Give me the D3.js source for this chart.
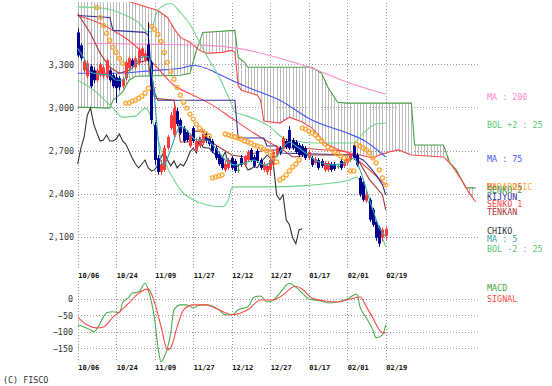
<!DOCTYPE html>
<html>
<head>
<meta charset="utf-8">
<script src="https://cdn.jsdelivr.net/npm/d3@7"></script>
<style>
  body { margin: 0; background: #fff; }
  svg { display: block; }
  text { font-family: "DejaVu Sans Mono", monospace; }
</style>
</head>
<body>
<svg id="chart" width="552" height="386"></svg>
<script>
// tick labels
const dateLabels = ['10/06', '10/24', '11/09', '11/27', '12/12', '12/27', '01/17', '02/01', '02/19'];
const dateIdx = [0, 12, 24, 36, 48, 60, 72, 84, 96];
const priceTicks = [3300, 3000, 2700, 2400, 2100];
const macdTicks = [0, -50, -100, -150];

// daily candles (97 bars)
const opens = [3522,3432,3258,3217,3286,3258,3189,3224,3217,3210,3258,3224,3210,3203,3147,3203,3272,3328,3279,3307,
  3355,3328,3439,3314,2877,2648,2551,2565,2717,2856,2808,2974,2912,2856,2828,2731,2856,2704,2731,2752,
  2815,2787,2766,2717,2676,2648,2565,2579,2648,2627,2565,2648,2600,2634,2704,2655,2697,2634,2565,2551,
  2565,2600,2669,2717,2717,2766,2842,2773,2759,2738,2731,2717,2648,2648,2613,2634,2627,2565,2565,2606,
  2606,2590,2627,2593,2613,2634,2738,2669,2509,2482,2350,2357,2287,2204,2163,2093,2107];
const closes = [3362,3342,3321,3307,3147,3189,3258,3300,3279,3328,3189,3147,3134,3140,3196,3314,3342,3286,3342,3397,
  3411,3376,3328,2912,2634,2551,2606,2717,2794,2946,2995,2884,2821,2766,2773,2808,2766,2766,2780,2815,
  2766,2745,2697,2648,2606,2579,2606,2634,2579,2558,2565,2600,2655,2690,2634,2593,2627,2579,2606,2593,
  2634,2690,2717,2683,2787,2724,2717,2717,2690,2669,2669,2648,2690,2600,2641,2579,2593,2613,2613,2565,
  2572,2590,2579,2620,2641,2669,2648,2600,2392,2357,2392,2218,2183,2093,2052,2149,2156];
const highs = [3550,3446,3335,3328,3300,3279,3272,3314,3293,3342,3272,3238,3231,3217,3210,3328,3355,3342,3355,3418,
  3425,3397,3591,3328,2898,2669,2634,2738,2808,2967,3030,2995,2925,2870,2842,2821,2870,2787,2794,2835,
  2828,2801,2780,2731,2690,2662,2627,2648,2662,2641,2593,2669,2669,2704,2717,2669,2710,2648,2620,2606,
  2648,2704,2731,2731,2801,2780,2870,2787,2773,2752,2745,2731,2704,2662,2655,2648,2641,2627,2627,2620,
  2620,2606,2641,2634,2655,2683,2752,2683,2523,2496,2426,2371,2301,2218,2176,2163,2170];
const lows = [3349,3328,3245,3203,3134,3168,3175,3210,3203,3196,3175,3134,3030,3120,3134,3189,3258,3272,3265,3293,
  3342,3314,3314,2884,2600,2530,2530,2551,2704,2842,2794,2870,2808,2752,2759,2717,2752,2690,2717,2738,
  2752,2731,2683,2634,2593,2565,2551,2565,2565,2544,2544,2586,2586,2620,2620,2579,2613,2565,2551,2530,
  2523,2586,2655,2669,2704,2710,2704,2704,2676,2655,2655,2634,2634,2586,2600,2565,2579,2551,2551,2551,
  2558,2572,2565,2579,2600,2620,2634,2586,2378,2343,2336,2204,2170,2072,2031,2066,2079];

// parabolic SAR per bar
const sar = [null,null,null,null,null,null,3695,3626,3570,3515,3466,3418,3383,3342,3307,
  3030,3030,3043,3050,3064,3078,3099,3134,
  3564,3543,3508,3460,3383,3314,3251,3196,3140,3085,3036,2995,2953,2919,2884,2856,2835,2815,2801,
  2509,2516,2523,2530,
  2815,2808,2801,2794,2787,2780,2766,2759,2752,2738,2731,2724,2710,2697,2683,2655,2620,
  2496,2509,2530,2558,2586,2606,2634,
  2856,2849,2835,2821,2808,2787,2766,2745,2724,2710,2690,2676,2662,2648,2634,
  2558,2558,
  2745,2731,2717,2704,2683,2648,2613,2565,2509,2461];

// chiko span (plotted from bar 0)
const chiko = [2606,2717,2794,2946,2995,2884,2821,2766,2773,2808,2766,2766,2780,2815,2766,2745,2697,2648,2606,2579,
  2606,2634,2579,2558,2565,2600,2655,2690,2634,2593,2627,2579,2606,2593,2634,2690,2717,2683,2787,2724,
  2717,2717,2690,2669,2669,2648,2690,2600,2641,2579,2593,2613,2613,2565,2572,2590,2579,2620,2641,2669,
  2648,2600,2392,2357,2392,2218,2183,2093,2052,2149,2156];

// lines read as [bar, value]
const ma5 = [[0,3411],[2,3342],[4,3245],[7,3231],[10,3224],[12,3189],[14,3189],[16,3245],[18,3307],[20,3349],[22,3355],
  [23,3260],[24,3050],[25,2800],[26,2620],[27,2600],[28,2648],[30,2773],[32,2870],[34,2842],[37,2773],[40,2773],
  [43,2717],[46,2634],[49,2600],[52,2613],[55,2634],[58,2600],[61,2634],[63,2690],[66,2759],[68,2731],[71,2683],
  [74,2634],[77,2606],[80,2600],[83,2613],[85,2634],[86,2648],[88,2565],[90,2426],[92,2287],[94,2163],[96,2100]];
const ma25 = [[0,3640],[7,3584],[11,3536],[16,3466],[23,3321],[30,3154],[36,3085],[42,3016],[48,2925],[54,2835],
  [59,2766],[64,2717],[69,2717],[76,2705],[83,2697],[88,2620],[96,2461]];
const ma75 = [[0,3238],[12,3238],[24,3258],[32,3272],[36,3293],[40,3272],[44,3231],[48,3189],[53,3140],[63,3050],
  [73,2912],[84,2821],[89,2773],[96,2655]];
const ma200 = [[3,3446],[25,3439],[40,3432],[50,3411],[63,3342],[73,3272],[84,3175],[96,3092]];
const bolUp = [[0,3700],[8,3690],[14,3650],[19,3590],[22,3525],[23,3530],[24,3620],[26,3700],[29,3723],[32,3660],
  [35,3577],[38,3453],[41,3328],[44,3217],[46,3120],[48,3023],[49,2967],[52,2946],[56,2912],[60,2863],[64,2787],
  [68,2766],[73,2752],[86,2752],[89,2821],[93,2884],[96,2891]];
const bolLow = [[0,3189],[5,3120],[11,2995],[14,2932],[18,2939],[21,2995],[23,2925],[24,2856],[26,2704],[28,2579],
  [30,2496],[32,2426],[36,2357],[40,2322],[45,2308],[47,2357],[48,2440],[50,2447],[60,2447],[70,2454],[80,2475],
  [85,2496],[87,2516],[89,2426],[91,2322],[93,2204],[96,2031]];
const kijun = [[0,3640],[10,3626],[11,3536],[21,3522],[22,3501],[23,3238],[24,3099],[25,3050],[49,3050],[50,2787],
  [58,2787],[59,2731],[62,2731],[63,2683],[86,2669],[87,2655],[89,2634],[91,2586],[93,2530],[95,2461],[96,2392]];
const tenkan = [[0,3654],[4,3515],[7,3376],[10,3279],[13,3238],[16,3258],[19,3314],[22,3328],[23,3154],[24,3064],
  [30,3050],[31,2932],[32,2759],[35,2759],[36,2835],[39,2835],[40,2787],[43,2738],[48,2669],[52,2655],[58,2704],
  [64,2704],[67,2655],[73,2669],[86,2669],[87,2648],[91,2496],[95,2392],[96,2287]];
const senko1 = [[0,3855],[10,3835],[15,3744],[20,3709],[25,3674],[28,3626],[30,3550],[32,3487],[35,3453],[38,3397],
  [40,3376],[45,3383],[48,3397],[49,3383],[50,3154],[51,3120],[56,3085],[57,3050],[58,2905],[63,2891],[66,2932],
  [70,2898],[73,2856],[75,2808],[77,2752],[82,2697],[88,2669],[92,2648],[94,2669],[97,2690],[100,2704],[104,2669],
  [114,2655],[116,2613],[118,2551],[120,2482],[122,2405],[124,2343]];
const senko2 = [[0,3002],[10,2995],[11,3050],[14,3106],[16,3189],[18,3217],[32,3224],[35,3238],[37,3397],[39,3522],
  [49,3536],[50,3349],[52,3314],[53,3279],[73,3279],[76,3238],[78,3140],[81,3036],[84,3030],[104,3030],[105,2738],
  [114,2738],[116,2613],[118,2565],[121,2440],[124,2440]];

// MACD panel
const macd = [[0,-79],[2,-85],[4,-94],[5,-100],[6,-91],[8,-55],[9,-42],[11,-39],[13,-42],[14,-12],[16,6],[17,18],
  [19,21],[21,48],[22,27],[24,-64],[25,-145],[26,-191],[27,-176],[29,-103],[30,-33],[32,-18],[34,-18],[36,-27],
  [38,-18],[40,-18],[44,-33],[46,-48],[48,-48],[50,-33],[53,-24],[55,6],[57,9],[59,-9],[61,-3],[63,18],[66,48],
  [68,36],[70,18],[72,0],[76,-6],[78,-12],[81,-9],[84,0],[87,15],[88,-24],[90,-58],[92,-94],[93,-118],[95,-109],[96,-79]];
const signal = [[0,-55],[3,-79],[6,-88],[8,-85],[11,-55],[13,-39],[16,-12],[19,18],[22,30],[24,-12],[26,-85],
  [28,-155],[29,-148],[31,-85],[33,-33],[36,-18],[40,-18],[44,-33],[48,-48],[53,-33],[57,-3],[61,-3],[63,6],
  [68,39],[70,30],[73,3],[77,-6],[81,-9],[85,0],[88,6],[90,-24],[92,-58],[94,-94],[95,-103],[96,-103]];

const svg = d3.select('#chart');
const x = d3.scaleLinear().domain([0, 96]).range([77.7, 385.7]);
const y = d3.scaleLinear().domain([2100, 3300]).range([236.7, 64.3]);
const ym = d3.scaleLinear().domain([-150, 0]).range([348.3, 299]);
const px = v => Math.round(v) + 0.5;

const defs = svg.append('defs');
defs.append('clipPath').attr('id', 'main').append('rect')
  .attr('x', 60).attr('y', 2).attr('width', 430).attr('height', 266);

// grid
const grid = svg.append('g').attr('stroke', '#999').attr('stroke-dasharray', '1,2').attr('fill', 'none');
grid.selectAll('.hp').data(priceTicks).join('line')
  .attr('x1', 78).attr('x2', 478).attr('y1', d => px(y(d))).attr('y2', d => px(y(d)));
grid.selectAll('.hm').data(macdTicks).join('line')
  .attr('x1', 78).attr('x2', 478).attr('y1', d => px(ym(d))).attr('y2', d => px(ym(d)));
grid.selectAll('.v1').data(dateIdx).join('line')
  .attr('x1', d => px(x(d))).attr('x2', d => px(x(d))).attr('y1', 3).attr('y2', 270);
grid.selectAll('.v2').data(dateIdx).join('line')
  .attr('x1', d => px(x(d))).attr('x2', d => px(x(d))).attr('y1', 281).attr('y2', 362);

// axes
const styleAxis = g => {
  g.select('.domain').remove();
  g.selectAll('text').attr('fill', '#333');
};
svg.append('g').attr('transform', 'translate(74,0)')
  .call(d3.axisLeft(y).tickValues(priceTicks).tickSize(0).tickPadding(0).tickFormat(d3.format(',')))
  .call(styleAxis).selectAll('text').style('font-size', '8.4px').style('font-family', '"DejaVu Sans Mono", monospace');
svg.append('g').attr('transform', 'translate(73,0)')
  .call(d3.axisLeft(ym).tickValues(macdTicks).tickSize(0).tickPadding(0))
  .call(styleAxis).selectAll('text').style('font-size', '8.4px').style('font-family', '"DejaVu Sans Mono", monospace');
[273, 365].forEach(ty => {
  svg.append('g').attr('transform', `translate(0,${ty})`)
    .call(d3.axisBottom(x).tickValues(dateIdx).tickSize(0).tickPadding(0).tickFormat((d, i) => dateLabels[i]))
    .call(styleAxis).selectAll('text')
    .attr('text-anchor', 'start').attr('fill', '#111')
    .style('font-size', '7px').style('font-weight', 'bold').style('font-family', '"DejaVu Sans Mono", monospace');
});

const plot = svg.append('g').attr('clip-path', 'url(#main)');
const pts = arr => arr.map(([i, v]) => [x(i), y(v)]);

// cloud hatch between senko spans
const cloudPts = pts(senko1).concat(pts(senko2).reverse());
defs.append('clipPath').attr('id', 'cloud').append('path')
  .attr('d', 'M' + cloudPts.map(p => p.join(',')).join('L') + 'Z');
plot.append('g').attr('clip-path', 'url(#cloud)').attr('stroke', '#bbb').attr('stroke-width', 1)
  .selectAll('line').data(d3.range(0, 125)).join('line')
  .attr('x1', d => px(x(d))).attr('x2', d => px(x(d))).attr('y1', 0).attr('y2', 270);

const smooth = d3.line().x(d => x(d[0])).y(d => y(d[1])).curve(d3.curveMonotoneX);
const straight = d3.line().x(d => x(d[0])).y(d => y(d[1]));
const drawLine = (arr, color, gen) => plot.append('path').datum(arr)
  .attr('d', gen).attr('fill', 'none').attr('stroke', color).attr('stroke-width', 1.1);

drawLine(senko2, '#44a044', straight);
drawLine(senko1, '#ff4848', straight);
drawLine(ma200, '#ff8ccc', smooth);
drawLine(ma75, '#4455ff', smooth);
drawLine(ma25, '#ff4848', smooth);
drawLine(bolUp, '#6fd48a', smooth);
drawLine(bolLow, '#6fd48a', smooth);
drawLine(chiko.map((v, i) => [i, v]), '#333333', straight);
drawLine(kijun, '#333399', straight);
drawLine(tenkan, '#aa3838', straight);

// candles
const bars = d3.range(opens.length);
const candleColor = i => closes[i] > opens[i] ? '#ff3c3c' : closes[i] < opens[i] ? '#000090' : '#33a033';
const cg = plot.append('g');
cg.selectAll('line').data(bars).join('line')
  .attr('x1', i => px(x(i))).attr('x2', i => px(x(i)))
  .attr('y1', i => y(highs[i])).attr('y2', i => y(lows[i]))
  .attr('stroke', candleColor).attr('stroke-width', 1);
cg.selectAll('rect').data(bars).join('rect')
  .attr('x', i => Math.round(x(i)) - 1).attr('width', 3)
  .attr('y', i => y(Math.max(opens[i], closes[i])))
  .attr('height', i => Math.max(1, Math.abs(y(opens[i]) - y(closes[i]))))
  .attr('fill', candleColor);

drawLine(ma5, '#33a8a8', smooth);

// parabolic
plot.append('g').selectAll('circle').data(bars.filter(i => sar[i] != null)).join('circle')
  .attr('cx', i => x(i)).attr('cy', i => y(sar[i])).attr('r', 2)
  .attr('fill', 'none').attr('stroke', '#ffa733').attr('stroke-width', 1.3);

// MACD
const mline = d3.line().x(d => x(d[0])).y(d => ym(d[1])).curve(d3.curveMonotoneX);
svg.append('path').datum(macd).attr('d', mline).attr('fill', 'none').attr('stroke', '#4caf4c').attr('stroke-width', 1.1);
svg.append('path').datum(signal).attr('d', mline).attr('fill', 'none').attr('stroke', '#ff4848').attr('stroke-width', 1.1);

// legend at line ends
const last = arr => Array.isArray(arr[arr.length - 1]) ? arr[arr.length - 1][1] : arr[arr.length - 1];
const legend = [
  ['MA : 200', '#ff88cc', ma200],
  ['BOL +2 : 25', '#55c870', bolUp],
  ['MA : 75', '#4455ff', ma75],
  ['MA : 25', '#ff4848', ma25],
  ['PARABOLIC', '#ffa733', sar],
  ['SENKO 2', '#449944', senko2],
  ['KIJYUN', '#333399', kijun],
  ['SENKO 1', '#ff4848', senko1],
  ['TENKAN', '#aa3838', tenkan],
  ['CHIKO', '#333333', chiko],
  ['MA : 5', '#33a8a8', ma5],
  ['BOL -2 : 25', '#55c870', bolLow]
];
svg.append('g').selectAll('text').data(legend).join('text')
  .attr('x', 487).attr('y', d => y(last(d[2])) + 2.5).attr('dy', '0.35em')
  .attr('fill', d => d[1]).style('font-size', '8.4px').text(d => d[0]);
svg.append('g').selectAll('text').data([['MACD', '#44aa44', 0], ['SIGNAL', '#ff4848', 1]]).join('text')
  .attr('x', 487).attr('y', d => 288 + d[2] * 11).attr('dy', '0.35em')
  .attr('fill', d => d[1]).style('font-size', '8.4px').text(d => d[0]);

svg.append('text').attr('x', 3).attr('y', 380).attr('dy', '0.35em')
  .attr('fill', '#333').style('font-size', '8.4px').text('(C) FISCO');
</script>
</body>
</html>
